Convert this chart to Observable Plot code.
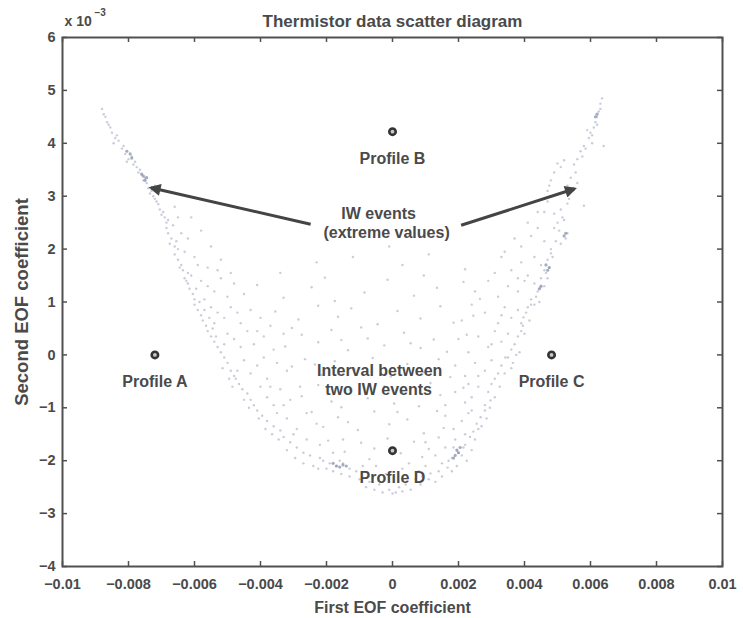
<!DOCTYPE html>
<html>
<head>
<meta charset="utf-8">
<script src="https://cdn.jsdelivr.net/npm/d3@7"></script>
<script src="https://cdn.jsdelivr.net/npm/@observablehq/plot@0.6"></script>
<style>
  html, body { margin: 0; padding: 0; background: #fff; }
</style>
</head>
<body>
<div id="chart"></div>
<script>
// Both coefficients are stored in units of 10^-3.
const xTicks = [-10, -8, -6, -4, -2, 0, 2, 4, 6, 8, 10];
const xTickLabels = ["\u22120.01", "\u22120.008", "\u22120.006", "\u22120.004", "\u22120.002", "0", "0.002", "0.004", "0.006", "0.008", "0.01"];
const yTicks = [-4, -3, -2, -1, 0, 1, 2, 3, 4, 5, 6];
const yTickLabels = ["\u22124", "\u22123", "\u22122", "\u22121", "0", "1", "2", "3", "4", "5", "6"];

// Thermistor samples projected on the first two EOFs: left arm of the U
const leftArm = [
  [-8.8,4.65],[-8.7,4.5],[-8.65,4.4],[-8.55,4.3],[-8.5,4.2],[-8.4,4.1],[-8.45,4.0],[-8.3,4.05],
  [-8.2,3.9],[-8.1,3.8],[-8.0,3.7],[-7.9,3.75],[-7.85,3.6],[-7.75,3.55],[-8.05,3.65],
  [-7.7,3.45],[-7.6,3.4],[-7.55,3.3],[-7.45,3.25],[-7.4,3.15],[-7.3,3.1],[-7.25,3.0],[-7.5,3.35],[-7.2,3.2],
  [-7.2,2.95],[-7.1,2.85],[-7.05,2.75],[-6.95,2.7],[-6.9,2.6],[-6.8,2.55],[-6.6,2.8],[-6.5,2.6],[-6.85,2.5],
  [-6.85,2.4],[-6.8,2.3],[-6.7,2.2],[-6.75,2.1],[-6.6,2.05],[-6.4,2.3],[-6.2,2.2],[-6.5,2.0],
  [-6.6,1.9],[-6.5,1.8],[-6.4,1.7],[-6.35,1.6],[-6.2,1.55],[-6.0,1.85],[-5.9,1.7],[-5.6,1.65],[-6.1,1.5],[-5.3,1.6],
  [-6.3,1.45],[-6.2,1.35],[-6.15,1.25],[-6.05,1.15],[-6.0,1.05],[-5.8,1.4],[-5.6,1.3],[-5.4,1.2],[-5.2,1.45],[-5.0,1.1],[-4.8,1.35],[-5.7,1.05],
  [-6.0,0.95],[-5.9,0.85],[-5.8,0.75],[-5.75,0.65],[-5.65,0.55],[-5.5,0.9],[-5.3,0.8],[-5.1,0.7],[-4.9,0.9],[-4.6,0.6],[-4.3,0.85],[-4.0,0.7],[-3.7,0.55],[-5.4,0.6],
  [-5.6,0.45],[-5.5,0.35],[-5.4,0.25],[-5.3,0.15],[-5.2,0.05],[-5.0,0.4],[-4.8,0.3],[-4.6,0.15],[-4.4,0.45],[-4.2,0.2],[-3.9,0.35],[-3.6,0.1],[-3.3,0.4],[-5.1,0.2],
  [-5.1,-0.05],[-5.0,-0.15],[-4.9,-0.3],[-4.8,-0.4],[-4.7,-0.3],[-4.5,-0.1],[-4.3,-0.35],[-4.1,-0.2],[-3.8,-0.45],[-3.5,-0.15],[-3.2,-0.3],[-4.75,-0.45],
  [-4.65,-0.55],[-4.55,-0.65],[-4.4,-0.73],[-4.3,-0.85],[-4.2,-0.95],[-4.0,-0.6],[-3.8,-0.8],[-3.6,-0.95],[-3.4,-0.65],[-3.1,-0.85],[-2.8,-0.6],
  [-4.1,-1.05],[-3.95,-1.15],[-3.8,-1.25],[-3.6,-1.35],[-3.4,-1.43],[-3.5,-1.1],[-3.2,-1.2],[-2.9,-1.4],[-2.6,-1.1],[-2.3,-1.3],
  [-3.3,-1.55],[-3.1,-1.65],[-2.9,-1.75],[-2.7,-1.85],[-2.5,-1.9],[-2.2,-1.95],[-2.6,-1.6],[-2.2,-1.7],[-1.8,-1.85],[-1.5,-1.6],[-3.0,-1.5],
  [-8.75,4.55],[-8.6,4.35],[-8.35,4.15],[-8.15,3.95],[-7.8,3.65],[-7.65,3.5],[-7.35,3.05],[-7.15,2.9],[-7.0,2.65],[-6.65,2.45],
  [-6.55,2.15],[-6.3,1.95],[-6.45,1.65],[-6.25,1.4],[-5.95,1.25],[-5.85,1.0],[-5.7,0.85],[-5.55,0.7],[-5.45,0.5],[-5.35,0.35],
  [-5.15,-0.25],[-4.95,-0.45],[-4.85,-0.6],[-4.5,-0.85],[-4.35,-1.0],[-4.05,-1.2],[-3.85,-1.4],[-3.65,-1.5],[-3.45,-1.6],[-3.2,-1.8],
  [-2.95,-1.95],[-2.7,-2.05],[-2.4,-2.1],[-6.1,2.6],[-5.8,2.35],[-5.5,2.05],[-5.2,1.8],[-4.9,1.55],[-4.5,1.15],[-4.7,0.8],
  [-4.1,0.45],[-3.9,-0.05],[-3.7,-0.6],[-3.3,-0.95]
];

// Right arm of the U
const rightArm = [
  [6.35,4.85],[6.3,4.75],[6.25,4.6],[6.2,4.5],[6.15,4.4],
  [6.1,4.3],[6.0,4.2],[5.95,4.1],[6.4,3.95],[6.05,4.0],[5.9,4.25],
  [5.8,3.95],[5.7,3.85],[5.2,3.68],[5.0,3.62],[5.1,3.55],[5.6,3.7],[5.5,3.6],
  [4.8,3.3],[4.7,3.1],[4.9,3.45],[5.4,3.35],[5.3,3.2],[5.6,3.25],[4.75,3.2],
  [5.3,2.86],[5.8,2.82],[4.9,2.67],[5.1,2.75],[5.2,2.55],[4.7,2.9],[5.0,2.5],[4.6,2.7],
  [5.3,2.3],[5.25,2.2],[5.1,2.1],[4.8,2.0],[4.9,2.4],[4.4,2.4],[4.2,2.25],[3.9,2.05],[4.6,2.15],
  [4.8,1.92],[4.7,1.8],[4.75,1.65],[4.6,1.6],[4.5,1.7],[4.3,1.85],[3.9,1.75],[3.6,1.6],[3.1,1.55],[4.1,1.5],[4.65,1.55],
  [4.5,1.45],[4.48,1.27],[4.4,1.2],[4.35,1.1],[4.3,1.35],[4.2,1.05],[4.0,1.4],[3.8,1.2],[3.5,1.3],[3.2,1.1],[2.9,1.4],[2.5,1.2],[4.45,1.0],
  [4.2,0.95],[4.1,0.9],[4.05,0.8],[3.97,0.71],[3.9,0.6],[3.8,0.85],[3.6,0.7],[3.4,0.9],[3.2,0.6],[2.8,0.8],[2.4,0.95],[2.1,0.65],[3.95,0.55],
  [3.9,0.45],[3.8,0.35],[3.7,0.2],[3.6,0.1],[3.5,0.4],[3.3,0.25],[3.1,0.45],[2.9,0.15],[2.6,0.35],[2.3,0.05],[2.0,0.3],[3.85,0.05],
  [3.5,-0.05],[3.42,-0.05],[3.3,-0.2],[3.2,-0.35],[3.1,-0.45],[3.0,-0.1],[2.8,-0.3],[2.5,-0.15],[2.2,-0.4],[1.9,-0.2],[3.6,-0.25],
  [3.0,-0.55],[2.97,-0.86],[2.9,-0.7],[2.8,-0.95],[2.6,-0.6],[2.4,-0.8],[2.15,-0.62],[2.2,-0.9],[1.9,-0.7],[1.6,-0.95],[2.3,-0.55],
  [2.8,-1.05],[2.67,-1.18],[2.55,-1.3],[2.45,-1.45],[2.3,-1.1],[2.1,-1.25],[1.85,-1.4],[1.6,-1.15],[2.6,-1.4],[2.2,-1.5],
  [2.35,-1.55],[2.2,-1.7],[2.15,-1.75],[2.0,-1.85],[1.96,-1.81],[1.8,-1.95],[1.9,-1.6],[1.6,-1.75],[1.3,-1.9],[1.0,-1.65],[2.1,-1.9],[1.85,-1.75],
  [6.3,4.65],[6.2,4.35],[6.05,4.15],[5.85,3.9],[5.75,3.75],[5.55,3.45],[5.45,3.1],[5.35,2.95],[5.15,2.6],[5.05,2.35],
  [4.95,2.15],[4.85,1.85],[4.7,1.45],[4.6,1.3],[4.3,0.95],[4.15,0.65],[4.0,0.4],[3.75,0.0],[3.65,-0.15],[3.4,-0.35],
  [3.25,-0.6],[3.1,-0.8],[2.95,-1.0],[2.85,-1.2],[2.7,-1.35],[2.5,-1.6],[2.4,-1.8],[2.25,-2.0],[1.95,-2.1],[1.8,-2.2],
  [1.5,-2.3],[4.4,2.7],[4.1,2.5],[3.7,2.2],[3.4,1.95],[3.8,1.45],[3.3,0.75],[3.0,0.2],[2.6,-0.4],[2.4,-1.05]
];

// Samples filling the inside of the U
const basin = [
  [-2.3,1.75],[-1.2,1.85],[0.3,1.7],[1.1,1.9],[2.2,1.62],[-3.4,1.55],[3.3,1.85],[-0.1,2.05],
  [-4.1,1.32],[-3.3,1.08],[-2.45,1.28],[-1.75,1.02],[-0.85,1.18],[-0.15,1.42],[0.65,1.12],[1.35,1.27],[2.15,1.38],[2.65,1.06],[-2.05,1.46],[0.95,1.5],
  [-3.55,0.82],[-2.85,0.67],[-2.25,0.93],[-1.65,0.72],[-1.25,0.88],[-0.45,0.58],[0.15,0.83],[0.85,0.69],[1.45,0.92],[1.85,0.61],[-0.95,0.52],[2.45,0.74],[-3.05,0.51],
  [-3.25,0.16],[-2.75,0.38],[-2.25,0.24],[-1.85,0.47],[-1.35,0.09],[-0.75,0.31],[-0.25,0.18],[0.35,0.42],[0.85,0.13],[1.25,0.29],[1.65,0.06],[2.25,0.38],[-1.55,0.28],[0.55,0.22],
  [-3.05,-0.22],[-2.65,-0.08],[-2.15,-0.38],[-1.75,-0.12],[-1.15,-0.27],[-0.6,-0.06],[-0.05,-0.41],[0.45,-0.17],[0.95,-0.33],[1.4,-0.08],[1.75,-0.42],[-2.35,-0.18],
  [-2.75,-0.78],[-2.25,-0.57],[-1.85,-0.88],[-1.3,-0.66],[-0.75,-0.82],[-0.25,-0.59],[0.3,-0.71],[0.8,-0.97],[1.15,-0.53],[1.45,-0.76],[-1.55,-0.99],[0.05,-0.92],
  [-2.45,-1.08],[-2.1,-1.36],[-1.65,-1.18],[-1.05,-1.42],[-0.55,-1.07],[-0.1,-1.31],[0.45,-1.22],[0.95,-1.48],[1.35,-1.06],[1.55,-1.38],[-1.35,-1.27],[0.15,-1.08],
  [-1.95,-1.62],[-1.45,-1.83],[-0.95,-1.66],[-0.55,-1.77],[-0.15,-1.58],[0.25,-1.86],[0.65,-1.64],[1.1,-1.78],[1.4,-1.56],[-0.7,-1.97],[0.9,-1.93]
];

// Bottom of the U
const trough = [
  [-2.1,-2.0],[-1.9,-2.05],[-1.7,-2.1],[-1.5,-2.05],[-1.3,-2.15],[-1.8,-2.2],[-2.0,-2.15],[-1.6,-2.0],[-1.1,-2.2],[-0.9,-2.1],
  [1.67,-2.13],[1.5,-2.05],[1.4,-2.2],[1.15,-2.24],[1.0,-2.1],[0.8,-2.2],[1.7,-2.0],
  [-0.5,-2.1],[-0.2,-2.25],[0.3,-2.15],[0.5,-2.05],
  [-1.0,-2.35],[-0.7,-2.4],[-0.4,-2.45],[-0.1,-2.55],[0.0,-2.62],[0.2,-2.5],[0.4,-2.45],[0.7,-2.35],[0.9,-2.3],[-0.3,-2.6],[0.3,-2.58],[-1.3,-2.3],[1.1,-2.35],
  [-0.8,-2.5],[-0.55,-2.55],[0.1,-2.6],[0.55,-2.55],[0.85,-2.45],[-1.55,-2.25],[-2.25,-2.15],[1.3,-2.4]
];

// Places where many samples pile up
const clusters = [
  [-8.05,3.85],[-7.95,3.8],[-7.9,3.72],[-7.6,3.42],[-7.55,3.38],[-7.5,3.3],[-7.45,3.35],
  [5.25,2.3],[5.2,2.25],[4.75,1.65],[4.7,1.6],[4.65,1.7],[4.5,1.3],[4.45,1.25],[6.2,4.55],[6.15,4.5],
  [1.95,-1.8],[2.0,-1.85],[1.9,-1.9],[1.85,-1.95],[2.05,-1.75],
  [-1.7,-2.1],[-1.6,-2.12],[-1.5,-2.08],[-1.4,-2.1],[-1.8,-2.05]
];

// Reference profiles
const profileNames = ["Profile A", "Profile B", "Profile C", "Profile D"];
const profileX = [-7.2, 0, 4.82, 0];
const profileY = [0, 4.22, 0, -1.81];

// Arrows pointing at the extreme values
const arrowFromX = [-2.48, 2.08];
const arrowFromY = [2.47, 2.45];
const arrowToX = [-7.32, 5.52];
const arrowToY = [3.16, 3.14];

// Free annotation text
const noteText = ["IW events", "(extreme values)", "Interval between", "two IW events"];
const noteX = [-0.42, -0.18, -0.39, -0.42];
const noteY = [2.67, 2.30, -0.31, -0.66];

const samples = [...leftArm, ...rightArm, ...basin, ...trough];
const profiles = profileNames.map((name, i) => ({name, x: profileX[i], y: profileY[i]}));
const arrows = arrowFromX.map((_, i) => ({x1: arrowFromX[i], y1: arrowFromY[i], x2: arrowToX[i], y2: arrowToY[i]}));
const notes = noteText.map((t, i) => ({t, x: noteX[i], y: noteY[i]}));

const ink = "#4a4a4a";
const frameW = 743 - 62 - 21;
const frameH = 618 - 37 - 52;

const chart = Plot.plot({
  width: 743,
  height: 618,
  marginLeft: 62,
  marginRight: 21,
  marginTop: 37,
  marginBottom: 52,
  x: {domain: [-10, 10]},
  y: {domain: [-4, 6]},
  style: {
    fontFamily: "'Liberation Sans', Arial, Helvetica, sans-serif",
    fontSize: "14.5px",
    fontWeight: "bold",
    color: ink,
    background: "#fff",
    overflow: "visible"
  },
  marks: [
    Plot.dot(samples, {x: d => d[0], y: d => d[1], r: 1.2, fill: "#a5abc0", fillOpacity: 0.6}),
    Plot.dot(clusters, {x: d => d[0], y: d => d[1], r: 1.6, fill: "#8f96b0", fillOpacity: 0.8}),
    Plot.frame({stroke: "#505050", strokeWidth: 2}),
    Plot.tickX(xTicks, {x: d => d, insetTop: frameH - 5, stroke: "#505050", strokeWidth: 1.5}),
    Plot.tickX(xTicks, {x: d => d, insetBottom: frameH - 5, stroke: "#505050", strokeWidth: 1.5}),
    Plot.tickY(yTicks, {y: d => d, insetRight: frameW - 5, stroke: "#505050", strokeWidth: 1.5}),
    Plot.tickY(yTicks, {y: d => d, insetLeft: frameW - 5, stroke: "#505050", strokeWidth: 1.5}),
    Plot.axisX({ticks: xTicks, tickSize: 0, tickPadding: 12, label: null,
      tickFormat: d => xTickLabels[xTicks.indexOf(d)], fill: ink}),
    Plot.axisY({ticks: yTicks, tickSize: 0, tickPadding: 7, label: null,
      tickFormat: d => yTickLabels[yTicks.indexOf(d)], fill: ink}),
    Plot.link(arrows, {x1: "x1", y1: "y1", x2: "x2", y2: "y2", stroke: "#444", strokeWidth: 3}),
    Plot.dot(profiles, {x: "x", y: "y", r: 3.2, stroke: "#333", strokeWidth: 2.6, fill: "#c8c8c8"}),
    Plot.text(profiles, {x: "x", y: "y", text: "name", dy: 27, fill: ink, fontSize: 16}),
    Plot.text(notes, {x: "x", y: "y", text: "t", fill: ink, fontSize: 16}),
    Plot.text(["Thermistor data scatter diagram"], {frameAnchor: "top", lineAnchor: "middle", dy: -16, fill: ink, fontSize: 17}),
    Plot.text(["First EOF coefficient"], {frameAnchor: "bottom", lineAnchor: "middle", dy: 41, fill: ink, fontSize: 16}),
    Plot.text(["Second EOF coefficient"], {frameAnchor: "left", textAnchor: "middle", lineAnchor: "middle", dx: -40, rotate: -90, fill: ink, fontSize: 18.5}),
    Plot.text(["x 10"], {frameAnchor: "top-left", textAnchor: "start", lineAnchor: "middle", dx: 2, dy: -16, fill: ink, fontSize: 14}),
    Plot.text(["\u22123"], {frameAnchor: "top-left", textAnchor: "start", lineAnchor: "middle", dx: 32, dy: -25, fill: ink, fontSize: 10})
  ]
});

// Filled triangular heads for the two arrows
const ns = "http://www.w3.org/2000/svg";
const defs = document.createElementNS(ns, "defs");
const marker = document.createElementNS(ns, "marker");
marker.setAttribute("id", "arrow-head");
marker.setAttribute("viewBox", "0 0 10 10");
marker.setAttribute("refX", "8");
marker.setAttribute("refY", "5");
marker.setAttribute("markerWidth", "6.5");
marker.setAttribute("markerHeight", "4");
marker.setAttribute("markerUnits", "strokeWidth");
marker.setAttribute("orient", "auto");
const head = document.createElementNS(ns, "path");
head.setAttribute("d", "M0,0L10,5L0,10Z");
head.setAttribute("fill", "#444");
marker.appendChild(head);
defs.appendChild(marker);
chart.insertBefore(defs, chart.firstChild);
chart.querySelectorAll('g[aria-label="link"] path').forEach(p => p.setAttribute("marker-end", "url(#arrow-head)"));

document.getElementById("chart").appendChild(chart);
</script>
</body>
</html>
